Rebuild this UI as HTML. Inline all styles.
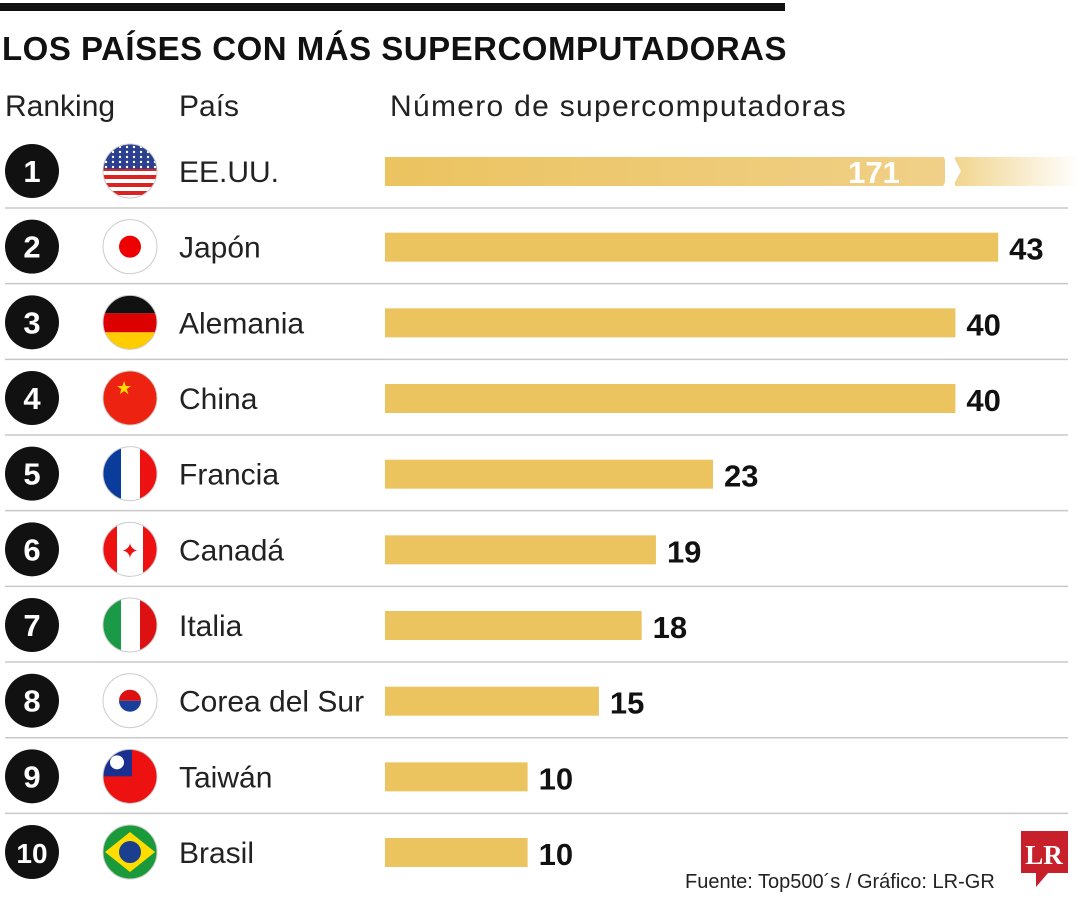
<!DOCTYPE html>
<html><head><meta charset="utf-8"><style>
body{margin:0;background:#fff;}
svg{display:block;font-family:"Liberation Sans",sans-serif;}
</style></head><body>
<svg id="chart" width="1080" height="900">
<defs>
<linearGradient id="fade" x1="0" x2="1"><stop offset="0" stop-color="#ebc35f" stop-opacity="0.7"/><stop offset="1" stop-color="#ebc35f" stop-opacity="0"/></linearGradient>
<linearGradient id="fade1" x1="0" x2="1"><stop offset="0" stop-color="#ebc35f"/><stop offset="1" stop-color="#f0d088"/></linearGradient>
<clipPath id="fc"><circle r="27"/></clipPath>
</defs>
<rect x="0" y="3" width="785" height="8" fill="#111"/>
<text x="2" y="60" font-size="33" font-weight="bold" fill="#111" letter-spacing="0.5">LOS PAÍSES CON MÁS SUPERCOMPUTADORAS</text>
<text x="5" y="116" font-size="30" fill="#222">Ranking</text>
<text x="179" y="116" font-size="30" fill="#222">País</text>
<text x="390" y="116" font-size="30" fill="#222" letter-spacing="1.3">Número de supercomputadoras</text>
<g id="rows"></g>
<text x="685" y="888" font-size="20" fill="#222">Fuente: Top500´s / Gráfico: LR-GR</text>
<g>
<rect x="1021" y="831" width="47" height="42" fill="#c8202a"/>
<polygon points="1036,873 1048,873 1036,887" fill="#c8202a"/>
<text x="1044" y="864" font-size="27" font-weight="bold" fill="#fff" text-anchor="middle" font-family="Liberation Serif,serif">LR</text>
</g>
</svg>
<script>
const countries=["EE.UU.","Japón","Alemania","China","Francia","Canadá","Italia","Corea del Sur","Taiwán","Brasil"];
const values=[171,43,40,40,23,19,18,15,10,10];
const ranks=["1","2","3","4","5","6","7","8","9","10"];
const x0=385, k=14.26, cap=1080;
function xs(v){return x0+v*k;}
function yc(i){return 171+i*75.67;}
const ns="http://www.w3.org/2000/svg";
const g=document.getElementById('rows');
function mk(t,a,p){const e=document.createElementNS(ns,t);for(const n in a)e.setAttribute(n,a[n]);(p||g).appendChild(e);return e;}
function flag(i,cx,cy){
 const fg=mk('g',{transform:`translate(${cx},${cy})`});
 
 
 const c=mk('g',{'clip-path':'url(#fc)'},fg);
 const R=(x,y,w,h,f)=>mk('rect',{x,y,width:w,height:h,fill:f},c);
 if(i==0){R(-28,-28,56,56,'#fff');for(let s=0;s<7;s++)R(-28,-28+s*8,56,4,'#d22');R(-28,-28,56,26,'#2a3f8f');for(let a=0;a<5;a++)for(let b=0;b<8;b++)mk('circle',{cx:-24+b*7,cy:-24+a*5,r:1.2,fill:'#fff'},c);}
 else if(i==1){R(-28,-28,56,56,'#fff');mk('circle',{r:11,fill:'#e00'},c);}
 else if(i==2){R(-28,-28,56,19,'#111');R(-28,-9,56,19,'#d00');R(-28,10,56,19,'#fc0');}
 else if(i==3){R(-28,-28,56,56,'#e21');mk('text',{x:-14,y:-4,'font-size':18,fill:'#fd0'},c).textContent='★';}
 else if(i==4){R(-28,-28,19,56,'#0a3c9c');R(-9,-28,19,56,'#fff');R(10,-28,19,56,'#e11');}
 else if(i==5){R(-28,-28,56,56,'#fff');R(-28,-28,15,56,'#e11');R(13,-28,15,56,'#e11');mk('text',{x:0,y:9,'font-size':22,fill:'#e11','text-anchor':'middle'},c).textContent='✦';}
 else if(i==6){R(-28,-28,19,56,'#1a9a46');R(-9,-28,19,56,'#fff');R(10,-28,19,56,'#d11');}
 else if(i==7){R(-28,-28,56,56,'#fff');mk('path',{d:'M-11,0 A11,11 0 0 1 11,0Z',fill:'#d11'},c);mk('path',{d:'M-11,0 A11,11 0 0 0 11,0Z',fill:'#1a3f9a'},c);}
 else if(i==8){R(-28,-28,56,56,'#e11');R(-28,-28,30,28,'#1a2f8f');mk('circle',{cx:-13,cy:-14,r:7,fill:'#fff'},c);}
 else {R(-28,-28,56,56,'#1a9a3a');mk('polygon',{points:'0,-20 25,0 0,20 -25,0',fill:'#fd0'},c);mk('circle',{r:11,fill:'#1a3f8f'},c);}
 mk('circle',{r:27,fill:'none',stroke:'#ccc','stroke-width':1},fg);
}
countries.forEach((name,i)=>{
 const cy=yc(i);
 if(i<9){const l=mk('line',{x1:5,x2:1068,y1:cy+37,y2:cy+37,stroke:'#c8c8c8','stroke-width':1.5});
  }
 const c=mk('circle',{cx:32,cy:cy,r:27,fill:'#111'});
 
 const rt=mk('text',{x:32,y:cy+11,'font-size':ranks[i].length>1?28:31,'font-weight':'bold',fill:'#fff','text-anchor':'middle'});
 rt.textContent=ranks[i];
 
 flag(i,130,cy);
 const ct=mk('text',{x:179,y:cy+11,'font-size':30,fill:'#222'});
 ct.textContent=name;
 
 const end=xs(values[i]);
 if(end>cap){
  const b=mk('rect',{x:x0,y:cy-14,width:945-x0,height:29,fill:'url(#fade1)'});
  
  const b2=mk('rect',{x:955,y:cy-14,width:cap-955,height:29,fill:'url(#fade)'});
  
  mk('polygon',{points:`943,${cy-15} 953,${cy-15} 961,${cy} 953,${cy+15} 943,${cy+15} 951,${cy}`,fill:'#fff'});
  const vt=mk('text',{x:874,y:cy+12,'font-size':31,'font-weight':'bold',fill:'#fff','text-anchor':'middle'});
  vt.textContent=values[i];
  
 } else {
  const b=mk('rect',{x:x0,y:cy-14,width:end-x0,height:29,fill:'#ebc35f'});
  
  const vt=mk('text',{x:end+11,y:cy+13,'font-size':31,'font-weight':'bold',fill:'#111'});
  vt.textContent=values[i];
  
 }
});
</script>
</body></html>
